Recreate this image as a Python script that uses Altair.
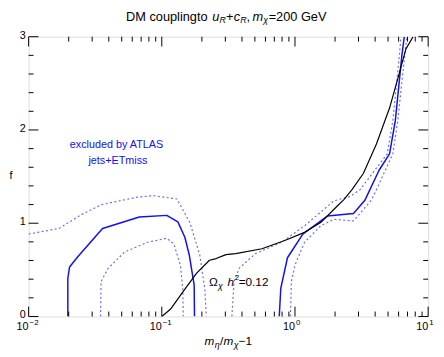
import altair as alt
import pandas as pd

FONT = "Liberation Sans"
BLUE = "#1010f0"
DOT = "#6a6af5"

# ---------------- data ----------------
# ATLAS exclusion, solid blue, left island
sol_l_x = [0.0197, 0.0197, 0.0203, 0.0234, 0.0359, 0.0678, 0.109, 0.132, 0.149, 0.161, 0.175, 0.176]
sol_l_f = [0.0, 0.41, 0.53, 0.64, 0.944, 1.066, 1.084, 1.014, 0.85, 0.656, 0.34, 0.0]
# ATLAS exclusion, solid blue, right branch
sol_r_x = [0.762, 0.783, 0.878, 1.145, 1.75, 2.75, 3.36, 4.28, 5.13, 5.67, 6.35, 6.62]
sol_r_f = [0.0, 0.305, 0.63, 0.884, 1.077, 1.105, 1.25, 1.568, 1.744, 2.1, 2.8, 3.0]
# dotted band, outer left island
dot_lo_x = [0.01, 0.0169, 0.0251, 0.0353, 0.0658, 0.0873, 0.130, 0.1625, 0.193, 0.210, 0.216]
dot_lo_f = [0.884, 0.944, 1.095, 1.2, 1.28, 1.295, 1.26, 1.007, 0.656, 0.305, 0.0]
# dotted band, inner left island
dot_li_x = [0.0347, 0.0350, 0.0395, 0.0525, 0.078, 0.109, 0.123, 0.138, 0.1436, 0.145]
dot_li_f = [0.0, 0.375, 0.516, 0.69, 0.796, 0.839, 0.779, 0.55, 0.305, 0.0]
# dotted band, right branch (upper)
dot_ra_x = [0.336, 0.349, 0.38, 0.505, 0.794, 1.18, 1.75, 1.96, 2.6, 3.08, 4.93, 5.43, 6.08, 6.25]
dot_ra_f = [0.0, 0.375, 0.516, 0.674, 0.796, 0.972, 1.18, 1.24, 1.288, 1.36, 1.744, 2.1, 2.8, 3.0]
# dotted band, right branch (lower)
dot_rb_x = [0.924, 0.94, 1.0, 1.18, 1.56, 1.96, 2.75, 3.26, 3.76, 4.09, 5.43, 5.92, 6.67, 6.93]
dot_rb_f = [0.0, 0.375, 0.55, 0.796, 0.972, 1.042, 1.024, 1.147, 1.25, 1.36, 1.744, 2.1, 2.8, 3.0]
# relic density curve Omega h^2 = 0.12
relic_x = [0.1, 0.116, 0.145, 0.182, 0.228, 0.256, 0.303, 0.359, 0.565, 0.838, 1.18, 1.56,
           2.07, 2.32, 2.68, 3.26, 4.09, 5.13, 5.92, 6.81, 7.71]
relic_f = [0.0, 0.077, 0.27, 0.463, 0.603, 0.621, 0.663, 0.674, 0.726, 0.814, 0.902, 1.007,
           1.182, 1.25, 1.36, 1.533, 1.849, 2.235, 2.55, 2.87, 3.0]

# axis ticks / labels
x_major = [0.01, 0.1, 1, 10]
x_exp = ["\u22122", "\u22121", "0", "1"]
x_minor = [k * d for d in [0.01, 0.1, 1] for k in range(2, 10)]
y_major = [0, 1, 2, 3]
y_minor = [0.2, 0.4, 0.6, 0.8, 1.2, 1.4, 1.6, 1.8, 2.2, 2.4, 2.6, 2.8]

W, H = 407, 285

xsc = alt.Scale(type="log", domain=[0.01, 10], nice=False)
ysc = alt.Scale(domain=[0, 3], nice=False, zero=False)


def cdf(name, xs, fs):
    return pd.DataFrame({"x": xs, "f": fs, "curve": name, "i": list(range(len(xs)))})


def lines(df, color, width, dash=None):
    props = dict(color=color, strokeWidth=width, clip=True, strokeJoin="round")
    if dash:
        props["strokeDash"] = dash
    return alt.Chart(df).mark_line(**props).encode(
        x=alt.X("x:Q", scale=xsc, axis=None),
        y=alt.Y("f:Q", scale=ysc, axis=None),
        detail="curve:N",
        order="i:Q",
    )


solid = pd.concat([cdf("sl", sol_l_x, sol_l_f), cdf("sr", sol_r_x, sol_r_f)])
dotted = pd.concat([cdf("lo", dot_lo_x, dot_lo_f), cdf("li", dot_li_x, dot_li_f),
                    cdf("ra", dot_ra_x, dot_ra_f), cdf("rb", dot_rb_x, dot_rb_f)])
relic = cdf("relic", relic_x, relic_f)

dummy = pd.DataFrame({"d": [0]})


def label(s, px, py, size=13, italic=False, color="black", align="left", baseline="alphabetic"):
    return alt.Chart(dummy).mark_text(
        text=s, fontSize=size, font=FONT, fontStyle="italic" if italic else "normal",
        color=color, align=align, baseline=baseline,
    ).encode(x=alt.value(px), y=alt.value(py))


def xticks(vals, length):
    df = pd.DataFrame({"v": vals})
    b = alt.Chart(df).mark_rule(color="black", strokeWidth=1).encode(
        x=alt.X("v:Q", scale=xsc, axis=None), y=alt.value(H), y2=alt.value(H - length))
    t = alt.Chart(df).mark_rule(color="black", strokeWidth=1).encode(
        x=alt.X("v:Q", scale=xsc, axis=None), y=alt.value(0), y2=alt.value(length))
    return [b, t]


def yticks(vals, length):
    df = pd.DataFrame({"v": vals})
    l = alt.Chart(df).mark_rule(color="black", strokeWidth=1).encode(
        y=alt.Y("v:Q", scale=ysc, axis=None), x=alt.value(0), x2=alt.value(length))
    r = alt.Chart(df).mark_rule(color="black", strokeWidth=1).encode(
        y=alt.Y("v:Q", scale=ysc, axis=None), x=alt.value(W), x2=alt.value(W - length))
    return [l, r]


xl = pd.DataFrame({"v": x_major, "e": x_exp})
x_lab = alt.Chart(xl).mark_text(text="10", fontSize=11, font=FONT, align="right",
                                baseline="alphabetic", color="black").encode(
    x=alt.X("v:Q", scale=xsc, axis=None), y=alt.value(299))
x_lab_e = alt.Chart(xl).mark_text(fontSize=8, font=FONT, align="left", dx=1,
                                  baseline="alphabetic", color="black").encode(
    x=alt.X("v:Q", scale=xsc, axis=None), y=alt.value(294), text="e:N")
yl = pd.DataFrame({"v": y_major})
y_lab = alt.Chart(yl).mark_text(fontSize=11, font=FONT, align="right", baseline="middle",
                                dx=-3, dy=-1, color="black").encode(
    y=alt.Y("v:Q", scale=ysc, axis=None), x=alt.value(0), text=alt.Text("v:Q"))

TB = -16.5   # title baseline
TS = -13.5   # title subscript baseline
texts = [
    # title
    label("DM couplingto", 99.3, TB, 13),
    label("u", 187, TB, 13, italic=True),
    label("R", 194.5, TS, 9, italic=True),
    label("+", 201, TB, 13),
    label("c", 209, TB, 13, italic=True),
    label("R", 215.5, TS, 9, italic=True),
    label(",", 222, TB, 13),
    label("m", 228, TB, 13, italic=True),
    label("\u03c7", 239, TS, 9, italic=True),
    label("=200 GeV", 244.5, TB, 13),
    # x axis title
    label("m", 179.3, 314.5, 12, italic=True),
    label("\u03b7", 189.5, 317, 9, italic=True),
    label("/", 195, 314.5, 12),
    label("m", 198.5, 314.5, 12, italic=True),
    label("\u03c7", 209, 317, 9, italic=True),
    label("\u22121", 214, 314.5, 12),
    # y axis title
    label("f", -18, 142, 11, align="center", baseline="middle"),
    # annotations
    label("excluded by  ATLAS", 89.5, 113.5, 11, color=BLUE, align="center"),
    label("jets+ETmiss", 91, 129.3, 11, color=BLUE, align="center"),
    label("\u03a9", 183.7, 254, 12),
    label("\u03c7", 193, 257, 9, italic=True),
    label("h", 202.7, 254, 12, italic=True),
    label("2", 210, 248, 8),
    label("=0.12", 214, 254, 12),
]

layers = (
    [lines(dotted, DOT, 1.2, [2, 2.5]), lines(solid, BLUE, 1.5), lines(relic, "black", 1.2)]
    + xticks(x_major, 10) + xticks(x_minor, 5) + yticks(y_major, 10) + yticks(y_minor, 5)
    + [x_lab, x_lab_e, y_lab] + texts
)

chart = alt.layer(*layers).properties(
    width=W, height=H,
    autosize=alt.AutoSizeParams(type="none"),
    padding={"left": 21, "top": 26, "right": 8, "bottom": 36},
).configure_view(stroke="black", strokeWidth=1).configure(background="white")

chart.save("out.html", embed_options={"renderer": "svg", "actions": False})
